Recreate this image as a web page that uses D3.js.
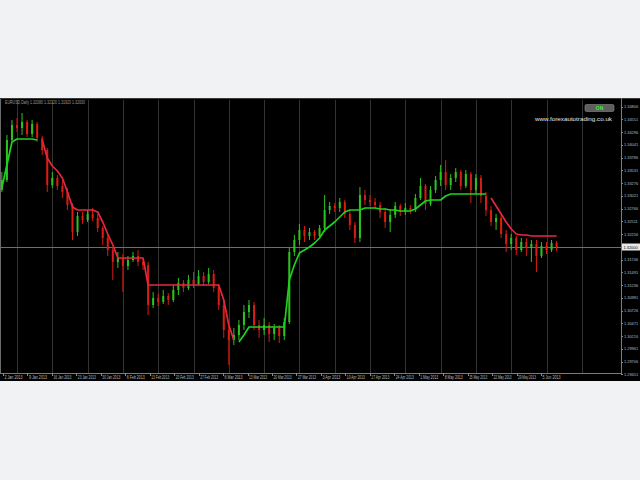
<!DOCTYPE html>
<html><head><meta charset="utf-8">
<script src="https://cdn.jsdelivr.net/npm/d3@7/dist/d3.min.js"></script>
<style>html,body{margin:0;padding:0;background:#f0f2f4;}svg{display:block}</style>
</head><body>
<svg id="c" width="640" height="480"></svg>
<script>
// ---------- data ----------
const headerText = "EURUSD,Daily  1.32080 1.32120 1.31920 1.32000";
const watermark = "www.forexautotrading.co.uk";
const badgeText = "ON";

const opens = [
1.3314,1.3334,1.3414,1.3444,1.3438,1.3450,1.3426,1.3446,1.3418,1.3394,
1.3324,1.3338,1.3322,1.3310,1.3284,1.3230,1.3262,1.3254,1.3266,1.3258,
1.3238,1.3218,1.3194,1.3170,1.3178,1.3162,1.3174,1.3182,1.3170,1.3164,
1.3084,1.3098,1.3090,1.3102,1.3094,1.3114,1.3128,1.3118,1.3134,1.3126,
1.3142,1.3130,1.3146,1.3118,1.3084,1.3034,1.3014,1.3024,1.3044,1.3070,
1.3084,1.3044,1.3034,1.3044,1.3026,1.3038,1.3022,1.3050,1.3190,1.3214,
1.3234,1.3222,1.3230,1.3222,1.3238,1.3274,1.3282,1.3278,1.3290,1.3266,
1.3244,1.3218,1.3304,1.3294,1.3290,1.3284,1.3270,1.3250,1.3264,1.3282,
1.3270,1.3278,1.3274,1.3298,1.3322,1.3286,1.3314,1.3334,1.3350,1.3324,
1.3338,1.3350,1.3322,1.3346,1.3314,1.3338,1.3302,1.3274,1.3250,1.3258,
1.3226,1.3206,1.3218,1.3194,1.3210,1.3198,1.3206,1.3182,1.3202,1.3194,
1.3208];
const highs = [
1.3350,1.3424,1.3454,1.3458,1.3468,1.3454,1.3454,1.3450,1.3422,1.3398,
1.3350,1.3344,1.3334,1.3318,1.3288,1.3270,1.3270,1.3274,1.3278,1.3266,
1.3242,1.3224,1.3200,1.3190,1.3186,1.3182,1.3190,1.3194,1.3178,1.3170,
1.3110,1.3106,1.3114,1.3108,1.3124,1.3138,1.3134,1.3144,1.3150,1.3154,
1.3150,1.3158,1.3154,1.3126,1.3094,1.3044,1.3038,1.3054,1.3084,1.3094,
1.3090,1.3054,1.3058,1.3050,1.3046,1.3044,1.3058,1.3198,1.3224,1.3246,
1.3242,1.3238,1.3234,1.3244,1.3304,1.3290,1.3288,1.3298,1.3294,1.3274,
1.3250,1.3320,1.3314,1.3304,1.3298,1.3290,1.3278,1.3274,1.3290,1.3286,
1.3288,1.3284,1.3306,1.3338,1.3326,1.3322,1.3342,1.3364,1.3374,1.3346,
1.3358,1.3354,1.3354,1.3350,1.3346,1.3344,1.3310,1.3282,1.3266,1.3264,
1.3234,1.3226,1.3222,1.3218,1.3218,1.3214,1.3214,1.3210,1.3210,1.3214,
1.3212];
const lows = [
1.3310,1.3330,1.3410,1.3430,1.3424,1.3420,1.3420,1.3410,1.3384,1.3310,
1.3318,1.3314,1.3298,1.3274,1.3214,1.3222,1.3246,1.3250,1.3252,1.3230,
1.3204,1.3182,1.3134,1.3158,1.3110,1.3154,1.3170,1.3162,1.3154,1.3064,
1.3078,1.3082,1.3086,1.3084,1.3090,1.3104,1.3110,1.3114,1.3118,1.3122,
1.3122,1.3126,1.3110,1.3074,1.3018,1.2964,1.3004,1.3014,1.3034,1.3058,
1.3034,1.3018,1.3024,1.3010,1.3014,1.3008,1.3014,1.3046,1.3182,1.3204,
1.3210,1.3214,1.3214,1.3218,1.3230,1.3266,1.3270,1.3270,1.3258,1.3234,
1.3208,1.3210,1.3284,1.3282,1.3278,1.3258,1.3238,1.3230,1.3258,1.3262,
1.3264,1.3266,1.3270,1.3294,1.3274,1.3282,1.3308,1.3322,1.3314,1.3314,
1.3330,1.3314,1.3318,1.3288,1.3306,1.3288,1.3262,1.3242,1.3234,1.3218,
1.3190,1.3194,1.3184,1.3190,1.3182,1.3170,1.3150,1.3178,1.3186,1.3190,
1.3192];
const closes = [
1.3334,1.3414,1.3444,1.3438,1.3450,1.3426,1.3446,1.3418,1.3394,1.3324,
1.3338,1.3322,1.3310,1.3284,1.3230,1.3262,1.3254,1.3266,1.3258,1.3238,
1.3218,1.3194,1.3170,1.3178,1.3162,1.3174,1.3182,1.3170,1.3164,1.3084,
1.3098,1.3090,1.3102,1.3094,1.3114,1.3128,1.3118,1.3134,1.3126,1.3142,
1.3130,1.3146,1.3118,1.3084,1.3034,1.3014,1.3024,1.3044,1.3070,1.3084,
1.3044,1.3034,1.3044,1.3026,1.3038,1.3022,1.3050,1.3190,1.3214,1.3234,
1.3222,1.3230,1.3222,1.3238,1.3274,1.3282,1.3278,1.3290,1.3266,1.3244,
1.3218,1.3304,1.3294,1.3290,1.3284,1.3270,1.3250,1.3264,1.3282,1.3270,
1.3278,1.3274,1.3298,1.3322,1.3286,1.3314,1.3334,1.3350,1.3324,1.3338,
1.3350,1.3322,1.3346,1.3314,1.3338,1.3302,1.3274,1.3250,1.3258,1.3226,
1.3206,1.3218,1.3194,1.3210,1.3198,1.3206,1.3182,1.3202,1.3194,1.3208,
1.3200];
// trailing line, green buffer (below price) and red buffer (above price)
const supportLine = [
1.3318,1.3364,1.3410,1.3416,1.3416,1.3416,1.3416,1.3414,null,null,
null,null,null,null,null,null,null,null,null,null,
null,null,null,null,null,null,null,null,null,null,
null,null,null,null,null,null,null,null,null,null,
null,null,null,null,null,null,null,1.3010,1.3024,1.3040,
1.3040,1.3040,1.3040,1.3040,1.3040,1.3040,1.3040,1.3134,1.3164,1.3188,
1.3194,1.3200,1.3208,1.3218,1.3234,1.3242,1.3250,1.3260,1.3270,1.3274,
1.3274,1.3274,1.3278,1.3278,1.3278,1.3276,1.3276,1.3274,1.3274,1.3272,
1.3272,1.3272,1.3276,1.3284,1.3292,1.3294,1.3294,1.3294,1.3302,1.3306,
1.3306,1.3306,1.3306,1.3306,1.3306,1.3306,1.3306,null,null,null,
null,null,null,null,null,null,null,null,null,null,
null];
const resistanceLine = [
null,null,null,null,null,null,null,null,1.3414,1.3378,
1.3362,1.3352,1.3338,1.3310,1.3280,1.3274,1.3274,1.3274,1.3274,1.3270,
1.3250,1.3226,1.3204,1.3178,1.3178,1.3178,1.3178,1.3178,1.3178,1.3124,
1.3124,1.3124,1.3124,1.3124,1.3124,1.3124,1.3124,1.3124,1.3124,1.3124,
1.3124,1.3124,1.3124,1.3124,1.3094,1.3044,1.3014,null,null,null,
null,null,null,null,null,null,null,null,null,null,
null,null,null,null,null,null,null,null,null,null,
null,null,null,null,null,null,null,null,null,null,
null,null,null,null,null,null,null,null,null,null,
null,null,null,null,null,null,null,1.3298,1.3282,1.3266,
1.3250,1.3236,1.3226,1.3224,1.3224,1.3222,1.3222,1.3222,1.3222,1.3222,
1.3222];
const currentPrice = 1.32000;
const priceTicks = [1.34806,1.34551,1.34296,1.34041,1.33786,1.33531,1.33276,1.33021,
  1.32766,1.32511,1.32256,1.31746,1.31491,1.31236,1.30981,1.30726,1.30471,1.30216,
  1.29961,1.29706,1.29451];
const timeLabels = ["2 Jan 2013","9 Jan 2013","16 Jan 2013","23 Jan 2013","30 Jan 2013",
  "6 Feb 2013","13 Feb 2013","20 Feb 2013","27 Feb 2013","6 Mar 2013","13 Mar 2013",
  "20 Mar 2013","27 Mar 2013","3 Apr 2013","10 Apr 2013","17 Apr 2013","24 Apr 2013",
  "1 May 2013","8 May 2013","15 May 2013","22 May 2013","29 May 2013","5 Jun 2013"];

// ---------- layout ----------
const svg = d3.select("#c");
const frame = {top: 98, bottom: 381};
const plot = {left: 1, right: 621, top: 100, bottom: 373};
const font = "'Liberation Sans', Arial, sans-serif";
const bullColor = "#2cc420", bearColor = "#d81c12";
const upLine = "#1fd21f", downLine = "#e6283c";

const defs = svg.append("defs");
defs.append("filter").attr("id","soft").attr("x","-5%").attr("y","-5%").attr("width","110%").attr("height","110%")
  .append("feGaussianBlur").attr("stdDeviation", 0.45);

svg.append("rect").attr("x",0).attr("y",0).attr("width",640).attr("height",480).attr("fill","#f0f2f4");
svg.append("rect").attr("x",0).attr("y",frame.top).attr("width",640).attr("height",frame.bottom-frame.top).attr("fill","#000");

const nBars = opens.length;
const x = d3.scaleLinear().domain([0, nBars-1]).range([1.87, 556.6]);
const y = d3.scaleLinear().domain([1.3200, 1.3480]).range([247, 107]);

// vertical grid every 7 bars
const gridBars = d3.range(3, 116, 7);
svg.append("g").selectAll("line").data(gridBars).join("line")
  .attr("x1", d => Math.round(x(d))+0.5).attr("x2", d => Math.round(x(d))+0.5)
  .attr("y1", plot.top).attr("y2", plot.bottom)
  .attr("stroke", "#333333").attr("stroke-width", 1);

// borders
svg.append("line").attr("x1",0.5).attr("x2",0.5).attr("y1",frame.top).attr("y2",plot.bottom).attr("stroke","#6a6a6a");
svg.append("line").attr("x1",0).attr("x2",640).attr("y1",frame.top+0.5).attr("y2",frame.top+0.5).attr("stroke","#3a3a3a");
svg.append("line").attr("x1",plot.right+0.5).attr("x2",plot.right+0.5).attr("y1",frame.top).attr("y2",plot.bottom).attr("stroke","#7a7a7a");
svg.append("line").attr("x1",0).attr("x2",plot.right+1).attr("y1",plot.bottom+0.5).attr("y2",plot.bottom+0.5).attr("stroke","#7a7a7a");

// bid line
svg.append("line").attr("x1",0).attr("x2",plot.right).attr("y1",Math.round(y(currentPrice))+0.5).attr("y2",Math.round(y(currentPrice))+0.5)
  .attr("stroke","#6e6e6e").attr("stroke-width",1);

// candles
const bars = d3.range(nBars).map(i => ({i, o: opens[i], h: highs[i], l: lows[i], c: closes[i]}));
const marks = svg.append("g").attr("filter","url(#soft)");
const cg = marks.append("g");
cg.selectAll("line").data(bars).join("line")
  .attr("x1", d => x(d.i)).attr("x2", d => x(d.i))
  .attr("y1", d => y(d.h)).attr("y2", d => y(d.l))
  .attr("stroke", d => d.c >= d.o ? bullColor : bearColor).attr("stroke-width", 1);
cg.selectAll("rect").data(bars).join("rect")
  .attr("x", d => x(d.i) - 1).attr("width", 2)
  .attr("y", d => y(Math.max(d.o, d.c)))
  .attr("height", d => Math.max(1, Math.abs(y(d.o) - y(d.c))))
  .attr("fill", d => d.c >= d.o ? bullColor : bearColor);

// trailing lines
const mkLine = arr => d3.line().defined(d => d != null).x((d,i) => x(i)).y(d => y(d))(arr);
marks.append("path").attr("d", mkLine(supportLine)).attr("fill","none").attr("stroke",upLine).attr("stroke-width",1.7).attr("stroke-linejoin","round");
marks.append("path").attr("d", mkLine(resistanceLine)).attr("fill","none").attr("stroke",downLine).attr("stroke-width",1.7).attr("stroke-linejoin","round");

// price axis
const pa = svg.append("g");
pa.selectAll("line").data(priceTicks).join("line")
  .attr("x1", plot.right).attr("x2", plot.right+2)
  .attr("y1", d => Math.round(y(d))+0.5).attr("y2", d => Math.round(y(d))+0.5)
  .attr("stroke","#8a8a8a");
pa.selectAll("text").data(priceTicks).join("text")
  .attr("x", plot.right+3).attr("y", d => y(d)+1.4)
  .attr("font-family", font).attr("font-size", 3.9).attr("fill","#bdbdbd")
  .text(d => d.toFixed(5));
// current price tag
const cy = y(currentPrice);
svg.append("rect").attr("x", plot.right+1).attr("y", cy-3.5).attr("width", 18).attr("height", 7).attr("fill","#e8e8e8");
svg.append("text").attr("x", plot.right+2.5).attr("y", cy+1.5)
  .attr("font-family", font).attr("font-size", 3.9).attr("fill","#000")
  .text(currentPrice.toFixed(5));

// time axis
const tx = d3.scalePoint().domain(timeLabels).range([3, 541]);
const ta = svg.append("g");
ta.selectAll("line").data(timeLabels).join("line")
  .attr("x1", d => Math.round(tx(d))+0.5).attr("x2", d => Math.round(tx(d))+0.5)
  .attr("y1", plot.bottom).attr("y2", plot.bottom+3).attr("stroke","#8a8a8a");
ta.selectAll("text").data(timeLabels).join("text")
  .attr("x", d => tx(d)+1.5).attr("y", plot.bottom+5.8)
  .attr("font-family", font).attr("font-size", 4.6).attr("fill","#bdbdbd")
  .attr("textLength", 18).attr("lengthAdjust","spacingAndGlyphs")
  .text(d => d);

// header text
svg.append("text").attr("x", 5).attr("y", 104)
  .attr("font-family", font).attr("font-size", 4.6).attr("fill","#9a9a9a")
  .attr("textLength", 80).attr("lengthAdjust","spacingAndGlyphs")
  .text(headerText);

// badge + watermark
svg.append("rect").attr("x", 585).attr("y", 104.5).attr("width", 29).attr("height", 7).attr("rx", 1.5)
  .attr("fill","#5e5e5e").attr("stroke","#8c8c8c").attr("stroke-width",0.6);
svg.append("text").attr("x", 599.5).attr("y", 109.8).attr("text-anchor","middle")
  .attr("font-family", font).attr("font-size", 5).attr("font-weight","bold").attr("fill","#3ee83e")
  .text(badgeText);
svg.append("text").attr("x", 535).attr("y", 121)
  .attr("font-family", font).attr("font-size", 5.6).attr("fill","#e6e6e6")
  .attr("textLength", 77).attr("lengthAdjust","spacingAndGlyphs")
  .text(watermark);
</script>
</body></html>
